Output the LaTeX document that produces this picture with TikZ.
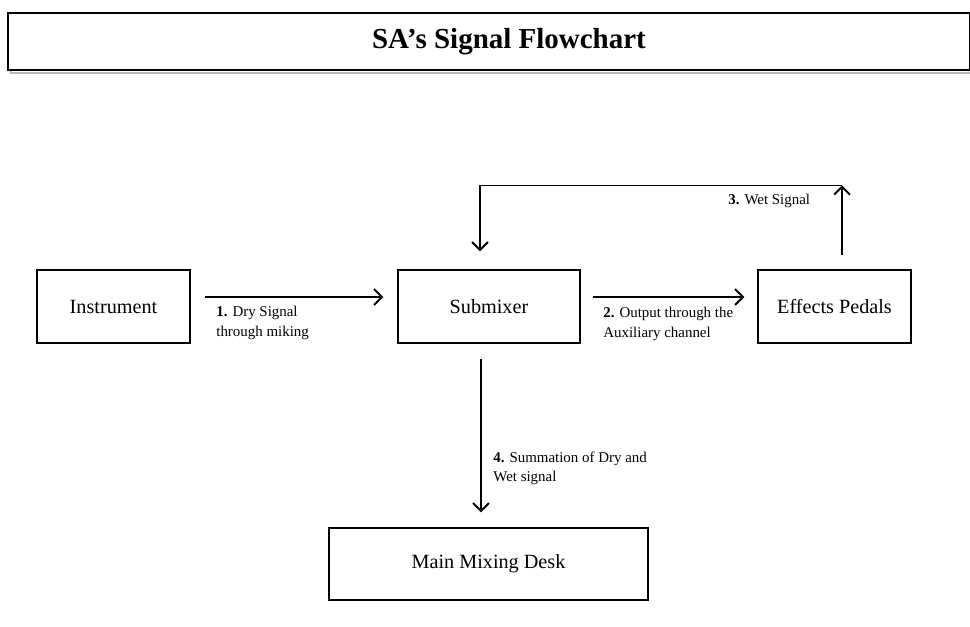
\documentclass[tikz,border=0pt]{standalone}
\usepackage{fontspec}
\setmainfont{Liberation Serif}
\usetikzlibrary{arrows.meta,calc}
\begin{document}
\begin{tikzpicture}[x=0.02cm,y=-0.02cm,
  box/.style={draw,line width=0.8pt,inner sep=0pt,minimum height=1.46cm,font=\fontsize{11.5}{13}\selectfont},
  lbl/.style={font=\fontsize{8.5}{11}\selectfont,align=left,anchor=north west,inner sep=0pt},
  arr/.style={-{Straight Barb[length=4.5pt,width=9pt,line width=1.1pt]},line width=0.9pt}]
\useasboundingbox (0,0) rectangle (970,626);
% title
\draw[gray!55,line width=1.6pt] (11,16) rectangle (973,73);
\node[draw,line width=1pt,fill=white,minimum width=19.24cm,minimum height=1.14cm,inner sep=0pt,
      font=\bfseries\fontsize{16.5}{20}\selectfont] (title) at (489,41.5) {\hspace*{0.8cm}SA’s Signal Flowchart};
% boxes
\node[box,minimum width=3.06cm] (inst) at (113.5,306.5) {Instrument};
\node[box,minimum width=3.64cm] (sub) at (489,306.5) {Submixer};
\node[box,minimum width=3.06cm] (eff) at (834.5,306.5) {Effects Pedals};
\node[box,minimum width=6.38cm,minimum height=1.44cm] (main) at (488.5,564) {Main Mixing Desk};
% connectors
\draw[arr] ($(inst.east)+(14,-9.5)$) -- ($(sub.west)+(-14,-9.5)$);
\draw[arr] ($(sub.east)+(12,-9.5)$) -- ($(eff.west)+(-13,-9.5)$);
\coordinate (wt) at ($(eff.north)+(7.5,-84)$);
\coordinate (wl) at ($(sub.north)+(-9,-84)$);
\draw[arr] ($(eff.north)+(7.5,-14)$) -- (wt);
\draw[arr] (wt) -- (wl) -- ($(sub.north)+(-9,-18)$);
\draw[arr] ($(sub.south)+(-8,15)$) -- ($(main.north)+(-7.5,-15)$);
% labels
\node[lbl] (l1) at (216,306) {\textbf{1.} Dry Signal\\through miking};
\node[lbl] (l2) at (603,307) {\textbf{2.} Output through the\\Auxiliary channel};
\node[lbl] (l3) at (728,194) {\textbf{3.} Wet Signal};
\node[lbl,font=\fontsize{8.5}{10.5}\selectfont] (l4) at (493,452) {\textbf{4.} Summation of Dry and\\Wet signal};
\end{tikzpicture}
\end{document}
